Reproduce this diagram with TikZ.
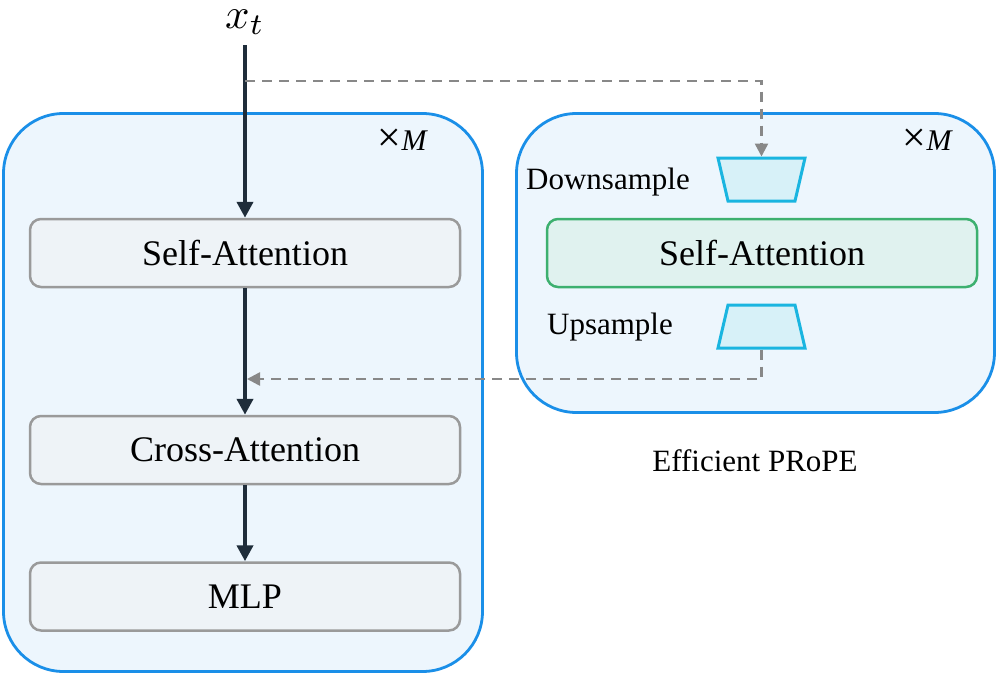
\documentclass[tikz,border=0pt]{standalone}
\usepackage{fontspec}
\setmainfont{Liberation Serif}
\usetikzlibrary{arrows.meta}
\definecolor{cblue}{HTML}{1A8FE8}
\definecolor{cbluefill}{HTML}{EDF6FD}
\definecolor{cgray}{HTML}{9A9A9A}
\definecolor{cgrayfill}{HTML}{EEF3F7}
\definecolor{cgreen}{HTML}{3DB06F}
\definecolor{cgreenfill}{HTML}{E0F2EF}
\definecolor{ccyan}{HTML}{1AB5E0}
\definecolor{ccyanfill}{HTML}{D7F1F8}
\definecolor{cdark}{HTML}{1F2D3A}
\definecolor{cdash}{HTML}{888888}
\newcommand{\timesM}{\raisebox{-1pt}{\scalebox{1.4}{×}}\textit{M}}
\tikzset{
  container/.style={draw=cblue, fill=cbluefill, line width=2.8pt, rounded corners=60pt, inner sep=0pt},
  graybox/.style={draw=cgray, fill=cgrayfill, line width=2.5pt, rounded corners=11pt, minimum width=430pt, minimum height=68pt, inner sep=0pt, font=\fontsize{36}{40}\selectfont},
  greenbox/.style={draw=cgreen, fill=cgreenfill, line width=2.5pt, rounded corners=11pt, minimum width=430pt, minimum height=68pt, inner sep=0pt, font=\fontsize{36}{40}\selectfont},
  samp/.style={draw=ccyan, fill=ccyanfill, line width=3pt, line join=miter},
  lbl/.style={font=\fontsize{31}{36}\selectfont, inner sep=0pt},
  timesm/.style={font=\fontsize{30}{34}\selectfont, inner sep=0pt},
  mainarrow/.style={draw=cdark, line width=4pt, -{Triangle[length=16pt,width=16pt]}},
  dasharrow/.style={draw=cdash, line width=2.5pt, dash pattern=on 10pt off 7pt, -{Triangle[length=13pt,width=13pt]}},
}
\begin{document}
\begin{tikzpicture}[x=1pt,y=-1pt]
\useasboundingbox (0,0) rectangle (996,675);
% containers
\node[container, minimum width=479pt, minimum height=558pt] (left) at (243,392.5) {};
\node[container, minimum width=478pt, minimum height=299pt] (right) at (755.5,263) {};
% labels xM
\node[timesm] (ml) at (403,140) {\timesM};
\node[timesm] (mr) at (928,140) {\timesM};
% left column
\node[graybox] (sa) at (245,253) {Self-Attention};
\node[graybox] (ca) at (245,450) {Cross-Attention};
\node[graybox] (mlp) at (245,596.5) {MLP};
% right column
\node[greenbox] (gsa) at (762,253) {Self-Attention};
\draw[samp] (718,158) -- (805,158) -- (795,201) -- (728,201) -- cycle;
\draw[samp] (728,305) -- (795,305) -- (805,348) -- (718,348) -- cycle;
\coordinate (downtop) at (761.5,156.5);
\coordinate (upbot) at (761.5,349.5);
\node[lbl] (downl) at (608,182) {Downsample};
\node[lbl] (upl) at (610,327) {Upsample};
\node[lbl] (eff) at (755,461) {Efficient PRoPE};
% input
\node[scale=4.3, inner sep=0pt] (xt) at (245,22) {$x_t$};
\coordinate (top) at (245,45);
\coordinate (br) at (245,81);
\coordinate (mg) at (247,379);
% arrows
\draw[mainarrow] (top) -- (sa.north);
\draw[mainarrow] (sa.south) -- (ca.north);
\draw[mainarrow] (ca.south) -- (mlp.north);
\draw[dasharrow] (br) -| (downtop);
\draw[dasharrow] (upbot) |- (mg);
\end{tikzpicture}
\end{document}
